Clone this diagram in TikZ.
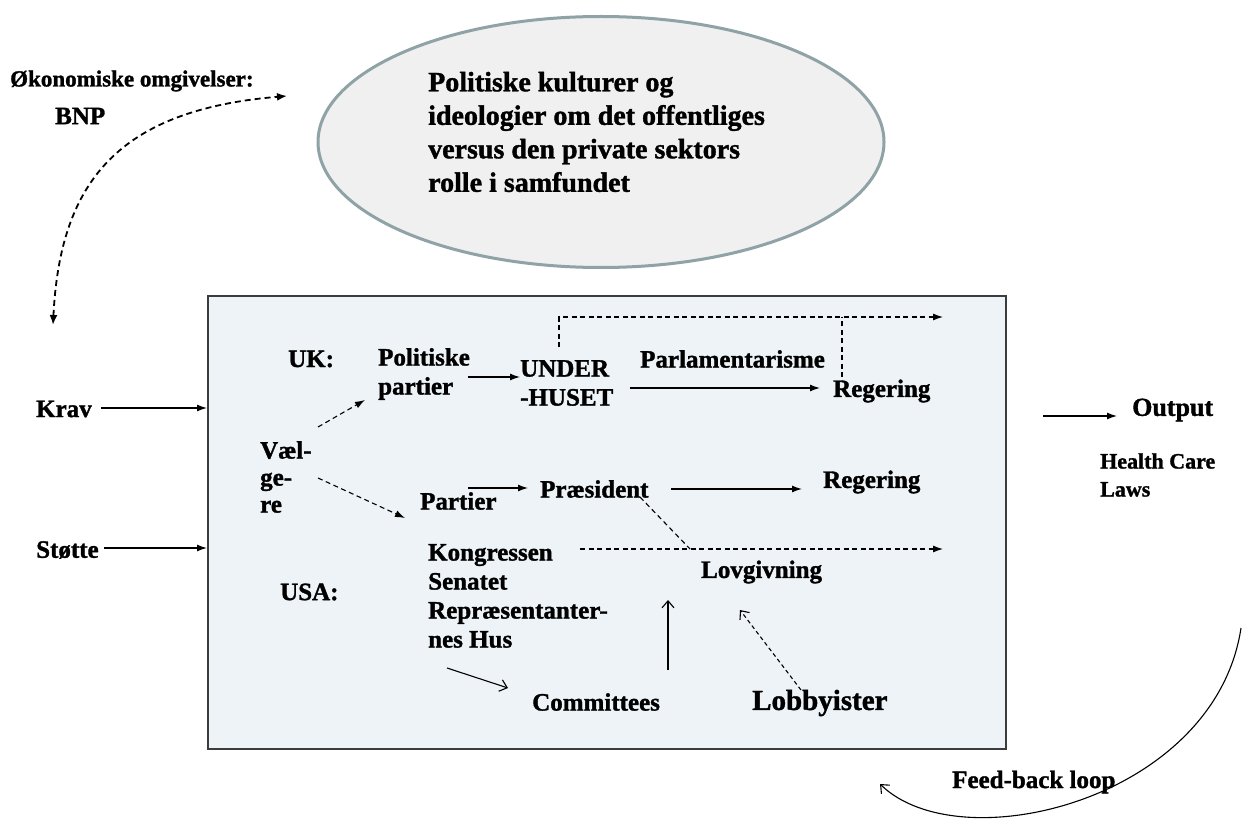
\documentclass[tikz,border=0pt]{standalone}
\usepackage{fontspec}
\setmainfont{Liberation Serif}[BoldFeatures={FakeBold=1.3}]
\usetikzlibrary{arrows.meta,calc,shapes.geometric}
\definecolor{boxfill}{HTML}{EDF3F6}
\definecolor{boxline}{HTML}{3C3C3C}
\definecolor{ellfill}{HTML}{F0F0F0}
\definecolor{ellline}{HTML}{8FA2A6}
\begin{document}
\begin{tikzpicture}[x=1pt,y=-1pt,
  lbl/.style={font=\fontsize{25}{29}\selectfont\bfseries, inner sep=0pt, anchor=west, align=left},
  arr/.style={line width=1.3pt, -{Latex[length=10pt,width=7pt]}},
  darr/.style={line width=1.1pt, dash pattern=on 5pt off 3.5pt, -{Latex[length=10pt,width=7pt]}},
  dline/.style={line width=1.1pt, dash pattern=on 5pt off 3.5pt},
  oarr/.style={line width=1.1pt, -{Straight Barb[length=7pt,width=12pt]}},
  odarr/.style={line width=1.1pt, dash pattern=on 4pt off 3pt, -{Straight Barb[length=7pt,width=12pt]}}]
\useasboundingbox (0,0) rectangle (1242,821);
\fill[white] (0,0) rectangle (1242,821);

% ellipse
\node[ellipse, draw=ellline, fill=ellfill, line width=3pt, minimum width=566pt, minimum height=251pt, inner sep=0pt] (ell) at (601,142) {};
\node[lbl, font=\fontsize{28}{33.5}\selectfont\bfseries] (elltext) at (428,132)
  {Politiske kulturer og\\ideologier om det offentliges\\versus den private sektors\\rolle i samfundet};

% economy
\node[lbl, font=\fontsize{23}{27}\selectfont\bfseries] (ekon) at (10,81) {Økonomiske omgivelser:};
\node[lbl] (bnp) at (55,116) {BNP};
\coordinate (econA) at (53,325);
\coordinate (econB) at (287,96);
\draw[line width=1.8pt, dash pattern=on 6pt off 4pt, {Latex[length=10pt,width=8pt]}-{Latex[length=10pt,width=8pt]}]
  (econA) .. controls (60,180) and (120,110) .. (econB);

% system box
\node[draw=boxline, fill=boxfill, line width=2pt, minimum width=798pt, minimum height=453pt, anchor=north west, inner sep=0pt] (sys) at (207,295) {};

% inputs
\node[lbl] (krav) at (36,409) {Krav};
\node[lbl] (stotte) at (36,550) {Støtte};
\draw[arr] ($(krav.east)+(9,-1)$) -- ($(krav.east -| sys.west)+(0,-1)$);
\draw[arr] ($(stotte.east)+(5,-2)$) -- ($(stotte.east -| sys.west)+(0,-2)$);

% UK
\node[lbl] (uk) at (288,359) {UK:};
\node[lbl] (polp) at (378,374) {Politiske\\partier};
\node[lbl] (under) at (520,383) {UNDER\\-HUSET};
\node[lbl] (parl) at (640,359) {Parlamentarisme};
\node[lbl] (reg1) at (833,391) {Regering};
\draw[arr] ($(polp.west)+(90,3)$) -- ($(under.west)+(0,-6)$);
\draw[arr] ($(under.east)+(17,5)$) -- ($(reg1.west)+(-13,-3)$);
\coordinate (ukout) at (943,317);
\draw[darr] ($(under.west)+(39,-36)$) |- (ukout);
\draw[dline] ($(reg1.west)+(9,-14)$) -- ($(reg1.west)+(9,-74)$);

% voters
\node[lbl, font=\fontsize{25}{27}\selectfont\bfseries] (vael) at (260,477) {Væl-\\ge-\\re};
\draw[darr] ($(vael.west)+(58,-50)$) -- ($(polp.west)+(-13,26)$);
\node[lbl] (partier) at (420,501) {Partier};
\draw[darr] ($(vael.west)+(58,1)$) -- ($(partier.west)+(-15,17)$);

% USA
\node[lbl] (praes) at (540,489) {Præsident};
\node[lbl] (reg2) at (823,482) {Regering};
\draw[arr] ($(partier.west)+(48,-13)$) -- ($(praes.west)+(-12,-1)$);
\draw[arr] ($(praes.west)+(131,0)$) -- ($(reg2.west)+(-21,7)$);
\node[lbl] (kong) at (428,596) {Kongressen\\Senatet\\Repræsentanter-\\nes Hus};
\node[lbl] (usa) at (280,592) {USA:};
\coordinate (usout) at (943,549);
\draw[darr] ($(kong.west)+(152,-47)$) -- (usout);
\coordinate (meet) at (690,549);
\draw[dline] ($(praes.west)+(100,8)$) -- (meet);
\node[lbl] (lov) at (701,572) {Lovgivning};
\node[lbl] (comm) at (532,702) {Committees};
\node[lbl, font=\fontsize{29}{33}\selectfont\bfseries] (lobby) at (752,703) {Lobbyister};
\draw[oarr] ($(comm.west)+(136,-32)$) -- ($(lov.west)+(-33,28)$);
\draw[oarr] ($(kong.west)+(19,72)$) -- ($(comm.west)+(-24,-14)$);
\draw[odarr] ($(lobby.west)+(49,-13)$) -- ($(lov.west)+(39,38)$);

% output
\node[lbl, font=\fontsize{26}{30}\selectfont\bfseries] (output) at (1132,410) {Output};
\node[lbl, font=\fontsize{22}{28}\selectfont\bfseries] (health) at (1100,475) {Health Care\\Laws};
\draw[arr] ($(output.west)+(-89,6)$) -- ($(output.west)+(-15,6)$);

% feedback
\node[lbl] (fb) at (952,782) {Feed-back loop};
\coordinate (fbs) at (1241,628);
\draw[oarr] (fbs) .. controls (1215,800) and (960,862) .. ($(fb.west)+(-72,2)$);
\end{tikzpicture}
\end{document}
